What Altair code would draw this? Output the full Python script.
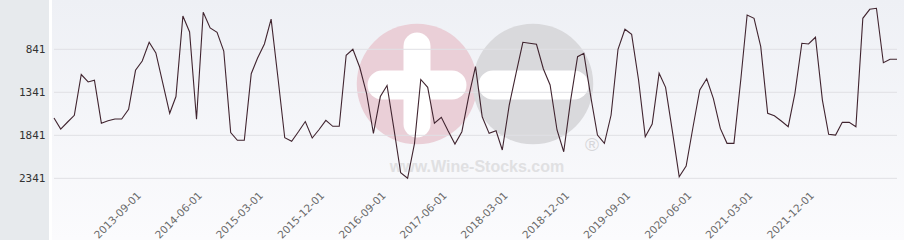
import altair as alt
import pandas as pd
import math

# ---- data (monthly) ----
start_month = "2012-09-01"
values = [
    1640, 1768, 1686, 1608, 1134, 1221, 1201, 1700, 1671, 1651,
    1651, 1539, 1085, 977, 760, 884, 1233, 1585, 1390, 454,
    640, 1655, 411, 593, 643, 861, 1808, 1899, 1899, 1125,
    946, 779, 491, 1181, 1869, 1911, 1797, 1681, 1872, 1776,
    1667, 1736, 1736, 910, 841, 1053, 1349, 1818, 1390, 1262,
    1768, 2276, 2340, 1934, 1192, 1283, 1701, 1632, 1789, 1942,
    1799, 1396, 1043, 1625, 1818, 1788, 2012, 1489, 1128, 760,
    771, 783, 1070, 1256, 1779, 2032, 1431, 927, 888, 1392,
    1838, 1934, 1605, 841, 608, 667, 1198, 1857, 1710, 1120,
    1283, 1803, 2322, 2198, 1756, 1314, 1183, 1415, 1760, 1934,
    1934, 1186, 442, 481, 811, 1585, 1613, 1675, 1741, 1353,
    771, 779, 701, 1431, 1829, 1838, 1690, 1690, 1741, 481,
    376, 364, 997, 957, 957,
]
dates = pd.date_range(start_month, periods=len(values), freq="MS")
y_ticks = [841, 1341, 1841, 2341]
x_tick_labels = [
    "2013-09-01", "2014-06-01", "2015-03-01", "2015-12-01", "2016-09-01",
    "2017-06-01", "2018-03-01", "2018-12-01", "2019-09-01", "2020-06-01",
    "2021-03-01", "2021-12-01",
]

df = pd.DataFrame({"date": dates.strftime("%Y-%m-%d"), "value": values})
grid_df = pd.DataFrame({"v": y_ticks})
one = pd.DataFrame({"a": [0]})

W, H = 843, 186

tick_vals = [
    alt.DateTime(year=int(s[:4]), month=int(s[5:7]), date=int(s[8:10]), utc=True)
    for s in x_tick_labels
]

x_scale = alt.Scale(type="utc", nice=False,
                    domain=[alt.DateTime(year=2012, month=9, date=1, utc=True),
                            alt.DateTime(year=2023, month=1, date=1, utc=True)])
y_scale = alt.Scale(domain=[268, 2430], reverse=True, nice=False, zero=False)

y_axis = alt.Axis(values=y_ticks, format="d", grid=False, ticks=False, domain=False,
                  labelFont="DejaVu Sans Mono", labelFontSize=11,
                  labelColor="#333333", labelPadding=9, zindex=1, title=None)

x_axis = alt.Axis(values=tick_vals,
                  labelExpr="utcFormat(datum.value, '%Y-%m-%d')",
                  labelAngle=-45, labelAlign="right", labelBaseline="top",
                  labelFont="DejaVu Sans", labelFontSize=10.5,
                  labelColor="#6a6a6a", labelPadding=4, labelFlush=False,
                  labelOverlap=False, ticks=False, domain=False,
                  grid=False, zindex=1, title=None)

# left grey panel
panel = alt.Chart(one).mark_rect(color="#e7eaed").encode(
    x=alt.value(-54), x2=alt.value(-5), y=alt.value(0), y2=alt.value(240)
)

# plot background gradient
bg = alt.Chart(one).mark_rect(
    fill=alt.Gradient(
        gradient="linear",
        stops=[alt.GradientStop(color="#eef0f5", offset=0),
               alt.GradientStop(color="#fbfbfd", offset=1)],
        x1=0, x2=0, y1=0, y2=1,
    )
).encode(x=alt.value(-2), x2=alt.value(W + 7), y=alt.value(0), y2=alt.value(240))

# watermark
circ_size = math.pi * 68 ** 2
pink = alt.Chart(one).mark_point(shape="circle", filled=True, size=circ_size,
                                 color="#eacfd7", opacity=1).encode(
    x=alt.value(363), y=alt.value(84))
grey = alt.Chart(one).mark_point(shape="circle", filled=True, size=circ_size,
                                 color="#d9d9dc", opacity=1).encode(
    x=alt.value(479), y=alt.value(84))
bar_v = alt.Chart(one).mark_rule(color="white", strokeWidth=27, strokeCap="round").encode(
    x=alt.value(363), y=alt.value(46), y2=alt.value(124))
bar_h = alt.Chart(one).mark_rule(color="white", strokeWidth=29, strokeCap="round").encode(
    x=alt.value(328), x2=alt.value(398), y=alt.value(85))
bar_m = alt.Chart(one).mark_rule(color="white", strokeWidth=29, strokeCap="round").encode(
    x=alt.value(439), x2=alt.value(520), y=alt.value(85))
wm_text = alt.Chart(one).mark_text(
    text="www.Wine-Stocks.com", font="Liberation Sans", fontWeight="bold",
    fontSize=16, color="#e0e0e2", align="center", baseline="middle"
).encode(x=alt.value(423), y=alt.value(167))
wm_r = alt.Chart(one).mark_text(
    text="®", font="Liberation Sans", fontSize=19, color="#d6d6d9",
    align="center", baseline="middle"
).encode(x=alt.value(538), y=alt.value(145))

grid = alt.Chart(grid_df).mark_rule(color="#e0e0e4", strokeWidth=1).encode(
    y=alt.Y("v:Q", scale=y_scale, axis=y_axis),
    x=alt.value(0), x2=alt.value(W),
)

line = alt.Chart(df).mark_line(color="#40242f", strokeWidth=1.1).encode(
    x=alt.X("date:T", scale=x_scale, axis=x_axis),
    y=alt.Y("value:Q", scale=y_scale, axis=y_axis),
)

chart = alt.layer(
    panel, bg, pink, grey, bar_v, bar_h, bar_m, wm_text, wm_r, grid, line
).properties(
    width=W, height=H,
    padding={"left": 54, "top": 0, "right": 7, "bottom": 54},
    autosize=alt.AutoSizeParams(type="none"),
    background="#ffffff",
).configure_view(stroke="transparent")

chart.save("out.html", embed_options={"renderer": "svg", "actions": False})
